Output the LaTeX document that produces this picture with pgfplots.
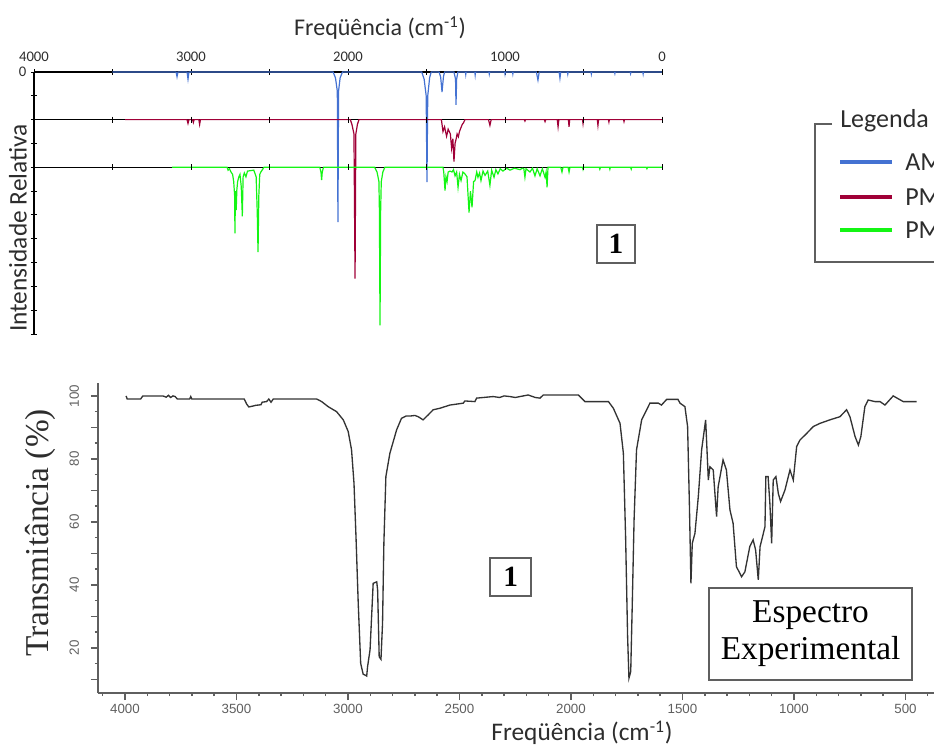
\documentclass[border=0pt]{standalone}
\usepackage{fontspec}
\setmainfont{Liberation Serif}
\setsansfont{Carlito}
\newfontfamily\arialfont{Liberation Sans}
\usepackage{pgfplots}
\pgfplotsset{compat=1.18}

\definecolor{amblue}{RGB}{68,114,210}
\definecolor{pmred}{RGB}{160,0,55}
\definecolor{pmgreen}{RGB}{20,245,20}
\definecolor{txtgray}{RGB}{45,45,45}
\definecolor{axgray}{RGB}{95,95,95}

\begin{document}
\begin{tikzpicture}
\clip (0,0) rectangle (700.5pt,558pt);

% ---- upper panel: calculated spectra ----
\begin{axis}[
  at={(25.5pt,307.5pt)}, anchor=south west,
  scale only axis, width=471pt, height=196.5pt,
  x dir=reverse, xmin=0, xmax=4000,
  ymin=-5.5, ymax=0,
  clip=false,
  axis x line=top, axis y line=left,
  x axis line style={draw=none},
  y axis line style={-, black, line width=0.9pt},
  tick align=center,
  major tick length=4.5pt, minor tick length=4.5pt,
  every tick/.style={black, line width=0.7pt},
  xtick={0,1000,2000,3000,4000},
  xticklabels={0,1000,2000,3000,4000},
  minor xtick={500,1500,2500,3500},
  xticklabel shift=2pt,
  ytick={-5.5,-5,-4.5,-4,-3.5,-3,-2.5,-2,-1.5,-1,-0.5,0},
  yticklabels={,,,,,,,,,,,0},
  ticklabel style={font=\sffamily\fontsize{11}{11}\selectfont, text=txtgray},
  /pgf/number format/assume math mode=true,
]
% baselines
\addplot[black, line width=1pt] coordinates {(4000,0)(0,0)};
\addplot[black, line width=1pt] coordinates {(4000,-1)(0,-1)};
\addplot[black, line width=1pt] coordinates {(4000,-2)(0,-2)};
\addplot[black, only marks, mark=|, mark size=2.3pt, mark options={line width=0.7pt}] coordinates {
  (3500,-1)(3000,-1)(2500,-1)(2000,-1)(1500,-1)(1000,-1)(500,-1)(0,-1)
  (3500,-2)(3000,-2)(2500,-2)(2000,-2)(1500,-2)(1000,-2)(500,-2)(0,-2)};

% AM
\addplot[amblue, line width=0.9pt] coordinates {
  (3500,0)(3095,0)(3089,-0.10)(3083,0)(3025,0)(3019,-0.15)(3013,0)
  (2095,0)(2080,-0.12)(2068,-0.4)(2064,-3.15)(2060,-0.4)(2050,-0.12)(2035,0)
  (1530,0)(1515,-0.15)(1502,-0.5)(1497,-2.31)(1492,-0.5)(1480,-0.12)(1470,0)
  (1420,0)(1410,-0.1)(1401,-0.42)(1392,-0.1)(1385,0)
  (1325,0)(1315,-0.15)(1312,-0.69)(1308,-0.15)(1300,0)
  (1252,0)(1250,-0.05)(1248,0)(1192,0)(1190,-0.06)(1188,0)
  (1102,0)(1100,-0.04)(1098,0)(1002,0)(1000,-0.04)(998,0)(952,0)(950,-0.04)(948,0)
  (800,0)(790,-0.17)(782,0)(655,0)(650,-0.13)(645,0)(602,0)(600,-0.04)(598,0)
  (452,0)(450,-0.04)(448,0)(302,0)(300,-0.03)(298,0)(202,0)(200,-0.03)(198,0)
  (122,0)(120,-0.04)(118,0)(0,0)};

% PM (red)
\addplot[pmred, line width=0.9pt] coordinates {
  (3420,-1)(3025,-1)(3019,-1.08)(3013,-1)(2990,-1)(2985,-1.06)(2980,-1)(2950,-1)(2945,-1.1)(2940,-1)
  (1985,-1)(1975,-1.1)(1962,-1.3)(1955,-4.34)(1950,-1.3)(1940,-1.1)(1930,-1)
  (1405,-1)(1395,-1.25)(1385,-1.15)(1372,-1.35)(1362,-1.2)(1355,-1.25)(1348,-1.3)
  (1340,-1.6)(1332,-1.4)(1325,-1.88)(1318,-1.5)(1312,-1.42)(1305,-1.3)(1297,-1.36)
  (1290,-1.25)(1282,-1.18)(1272,-1.1)(1265,-1.07)(1255,-1)
  (1105,-1)(1096,-1.12)(1088,-1)
  (877,-1)(873,-1.03)(869,-1)(749,-1)(745,-1.04)(741,-1)
  (667,-1)(662,-1.15)(657,-1)(596,-1)(592,-1.15)(588,-1)(506,-1)(503,-1.08)(500,-1)
  (412,-1)(408,-1.12)(404,-1)(341,-1)(338,-1.05)(335,-1)(245,-1)(242,-1.04)(239,-1)(0,-1)};

% PM (green)
\addplot[pmgreen, line width=0.9pt] coordinates {
  (3120,-2)(2770,-2)(2764,-2.06)(2755,-2.03)(2745,-2.1)(2735,-2.15)(2728,-2.3)(2722,-2.6)
  (2720,-3.39)(2717,-2.5)(2712,-2.9)(2708,-2.48)(2703,-2.3)(2695,-2.2)(2688,-2.15)
  (2680,-2.4)(2673,-3.03)(2668,-2.2)(2660,-2.12)(2650,-2.2)(2640,-2.08)(2600,-2.06)
  (2585,-2.2)(2578,-2.94)(2573,-3.78)(2568,-2.6)(2562,-2.15)(2555,-2.1)(2545,-2.05)(2535,-2)
  (2180,-2)(2172,-2.1)(2168,-2.27)(2164,-2.1)(2156,-2)
  (1830,-2)(1815,-2.1)(1803,-2.3)(1800,-2.9)(1796,-5.32)(1792,-2.9)(1788,-2.3)(1778,-2.1)(1765,-2)
  (1395,-2)(1390,-2.1)(1382,-2.49)(1376,-2.2)(1369,-2.3)(1362,-2.1)(1350,-2.08)(1338,-2.1)
  (1328,-2.05)(1318,-2.18)(1308,-2.1)(1299,-2.42)(1290,-2.15)(1280,-2.28)(1268,-2.1)
  (1255,-2.14)(1242,-2.2)(1229,-2.95)(1220,-2.5)(1210,-2.84)(1200,-2.3)(1191,-2.28)
  (1180,-2.1)(1172,-2.21)(1162,-2.12)(1153,-2.28)(1140,-2.08)(1127,-2.17)(1110,-2.08)
  (1096,-2.38)(1085,-2.06)(1070,-2.21)(1058,-2.05)(1045,-2.14)(1030,-2.03)(1013,-2.08)
  (990,-2.02)(968,-2.06)(940,-2.02)(904,-2.05)(890,-2.02)(880,-2.03)(873,-2.21)(866,-2.03)
  (841,-2.1)(825,-2.02)(809,-2.18)(795,-2.03)(777,-2.18)(762,-2.03)(745,-2.21)(738,-2.1)
  (732,-2.42)(726,-2)(645,-2)(637,-2.1)(630,-2)(598,-2)(592,-2.1)(586,-2)
  (506,-2)(503,-2.04)(500,-2)(400,-2)(396,-2.04)(392,-2)(335,-2)(332,-2.04)(329,-2)
  (200,-2)(196,-2.04)(192,-2)(100,-2)(96,-2.03)(92,-2)(0,-2)};
\end{axis}

% ---- lower panel: experimental spectrum ----
\begin{axis}[
  at={(73.5pt,38.25pt)}, anchor=south west,
  scale only axis, width=627pt, height=232.5pt,
  x dir=reverse, xmin=372, xmax=4121,
  ymin=5.7, ymax=104.1,
  axis x line=bottom, axis y line=left,
  axis line style={-, axgray, line width=1.1pt},
  tick align=outside,
  major tick length=5.25pt, minor tick length=2.25pt,
  every tick/.style={axgray, line width=1.1pt},
  xtick={500,1000,...,4000},
  minor xtick={400,500,...,4100},
  ytick={20,40,...,100},
  extra y ticks={10,30,50,70,90},
  extra y tick labels={},
  minor ytick={5,10,...,100},
  /pgf/number format/1000 sep={},
  /pgf/number format/assume math mode=true,
  ticklabel style={font=\arialfont\fontsize{10}{10}\selectfont, text=axgray},
  yticklabel style={rotate=90, anchor=south},
  yticklabel shift=5.5pt,
  xticklabel shift=-0.5pt,
]
\addplot[black!80, line width=1pt] coordinates {
  (3995,100.0)(3990,99.0)(3930,99.0)(3920,100.0)(3830,100.0)(3815,99.6)(3805,100.2)
  (3795,99.5)(3785,100.0)(3775,99.8)(3765,99.0)(3710,99.0)(3705,99.8)(3700,99.0)
  (3465,99.0)(3455,97.5)(3445,96.5)(3425,96.8)(3415,97.0)(3390,97.2)(3385,98.0)
  (3365,98.2)(3355,99.0)(3345,98.0)(3335,99.0)(3140,99.0)(3118,98.2)(3089,96.6)
  (3051,95.0)(3021,92.4)(2999,88.7)(2984,82.9)(2973,72.3)(2964,55.3)(2954,34.2)
  (2943,15.1)(2932,11.7)(2916,11.1)(2912,14.1)(2901,19.4)(2887,40.5)(2871,41.0)
  (2867,38.4)(2860,17.2)(2852,16.4)(2845,27.8)(2839,53.2)(2830,74.4)(2812,81.8)
  (2782,89.2)(2760,92.9)(2740,93.6)(2722,93.6)(2700,93.8)(2685,93.4)(2663,92.4)
  (2640,94.0)(2618,95.6)(2587,96.1)(2543,97.1)(2483,97.7)(2476,98.4)(2431,98.2)
  (2423,99.3)(2349,99.8)(2320,99.5)(2300,100.0)(2274,99.8)(2250,99.5)(2192,100.3)
  (2160,99.5)(2139,99.3)(2124,100.3)(1967,100.3)(1937,98.2)(1832,98.2)(1810,96.1)
  (1780,91.3)(1765,81.8)(1755,55.3)(1746,23.6)(1740,10.4)(1732,12.5)(1725,34.2)
  (1717,60.6)(1706,82.9)(1683,92.4)(1646,97.7)(1608,97.7)(1594,97.1)(1571,98.9)
  (1520,98.9)(1511,97.7)(1489,96.6)(1477,90.3)(1469,65.9)(1462,40.5)(1456,53.2)
  (1444,56.4)(1429,68.0)(1414,82.9)(1396,92.4)(1392,86.0)(1384,73.3)(1377,77.5)
  (1362,76.5)(1347,61.7)(1340,71.1)(1318,79.7)(1303,76.5)(1287,63.8)(1273,59.6)
  (1258,45.8)(1235,42.6)(1220,44.2)(1198,52.2)(1183,54.3)(1172,51.1)(1160,41.6)
  (1152,52.2)(1141,55.3)(1130,58.5)(1126,74.4)(1116,74.4)(1108,65.9)(1100,53.2)
  (1093,73.3)(1081,74.4)(1070,69.0)(1060,66.5)(1040,70.2)(1018,76.5)(1003,73.3)
  (988,83.9)(973,86.0)(943,88.1)(913,90.3)(883,91.3)(839,92.4)(794,93.4)(764,95.6)
  (749,93.4)(726,87.1)(711,84.4)(700,87.1)(682,96.6)(667,98.7)(637,98.2)(614,98.2)
  (592,97.1)(555,100.0)(510,98.2)(450,98.2)};
\end{axis}

% ---- texts, boxes and legend ----
\node[font=\sffamily\fontsize{18}{18}\selectfont, text=txtgray] at (285pt,537pt) {Freqüência (cm\textsuperscript{-1})};
\node[rotate=90, font=\sffamily\fontsize{19}{19}\selectfont, text=txtgray] at (13.5pt,387pt) {Intensidade Relativa};
\node[draw=axgray, line width=1.1pt, minimum width=28.5pt, minimum height=28.5pt, inner sep=0pt,
  font=\bfseries\fontsize{22}{22}\selectfont] at (462pt,375pt) {1};

\draw[axgray, line width=1.1pt] (624pt,465pt) -- (611.25pt,465pt) -- (611.25pt,361.5pt) -- (710pt,361.5pt);
\node[anchor=west, font=\sffamily\fontsize{19.5}{19.5}\selectfont, text=txtgray, inner sep=1pt] at (629pt,467.25pt) {Legenda};
\draw[amblue, line width=2.8pt] (630pt,436.5pt) -- (669pt,436.5pt);
\draw[pmred, line width=2.8pt] (630pt,410.25pt) -- (669pt,410.25pt);
\draw[pmgreen, line width=2.8pt] (630pt,385.5pt) -- (669pt,385.5pt);
\node[anchor=west, font=\sffamily\fontsize{19.5}{19.5}\selectfont, text=txtgray, inner sep=0pt] at (678.75pt,436.5pt) {AM};
\node[anchor=west, font=\sffamily\fontsize{19.5}{19.5}\selectfont, text=txtgray, inner sep=0pt] at (678.75pt,410.25pt) {PM};
\node[anchor=west, font=\sffamily\fontsize{19.5}{19.5}\selectfont, text=txtgray, inner sep=0pt] at (678.75pt,385.5pt) {PM};

\node[rotate=90, font=\fontsize{25}{25}\selectfont, text=txtgray] at (30pt,158.25pt) {Transmitância (\%)};
\node[font=\sffamily\fontsize{19}{19}\selectfont, text=txtgray] at (436.5pt,8.5pt) {Freqüência (cm\textsuperscript{-1})};
\node[draw=axgray, line width=1.1pt, minimum width=30.75pt, minimum height=28.5pt, inner sep=0pt,
  font=\bfseries\fontsize{22}{22}\selectfont] at (383pt,125.25pt) {1};
\node[draw=axgray, line width=1.1pt, minimum width=152.25pt, minimum height=69pt, align=center,
  inner sep=0pt, font=\fontsize{25}{27.75}\selectfont, text=black] at (607.9pt,82.5pt) {Espectro\\Experimental};
\end{tikzpicture}
\end{document}
